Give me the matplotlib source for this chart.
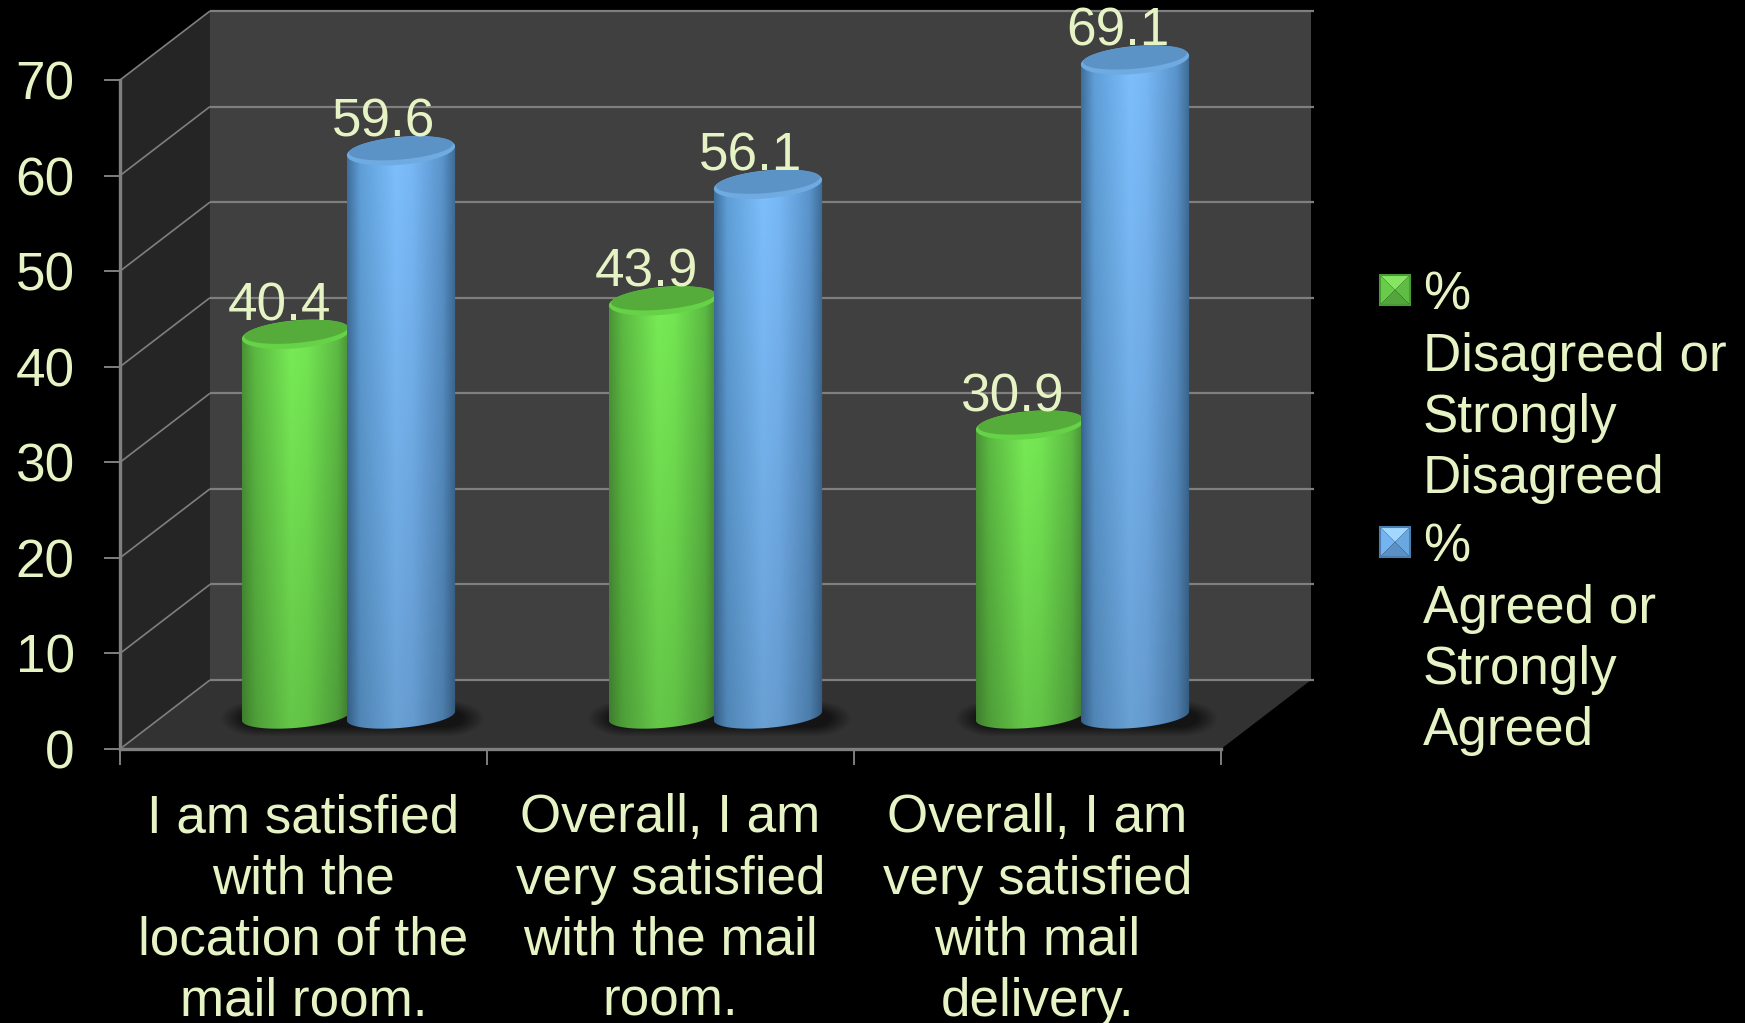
import numpy as np
import matplotlib
matplotlib.use("Agg")
import matplotlib.pyplot as plt
from matplotlib.patches import Polygon, Rectangle
from matplotlib.transforms import Affine2D

categories = ["I am satisfied\nwith the\nlocation of the\nmail room.",
              "Overall, I am\nvery satisfied\nwith the mail\nroom.",
              "Overall, I am\nvery satisfied\nwith mail\ndelivery."]
disagreed = [40.4, 43.9, 30.9]
agreed = [59.6, 56.1, 69.1]
y_ticks = [0, 10, 20, 30, 40, 50, 60, 70]
legend_labels = ["%\nDisagreed or\nStrongly\nDisagreed", "%\nAgreed or\nStrongly\nAgreed"]

W, H = 1745, 1023
TXT = "#e6f3c4"
GRID = "#7f7f7f"
FS = 38.2

# front plane of the fake 3d box, in pixels
LEFT, RIGHT, BOTTOM, TOP = 120, 1221, 749, 80
px_x = (RIGHT - LEFT) / 3
px_y = (BOTTOM - TOP) / 70
DX, DY = 90 / px_x, 69 / px_y   # wall depth in data units

plt.rcParams["font.family"] = ["Liberation Sans", "DejaVu Sans"]
fig = plt.figure(figsize=(W / 100, H / 100), dpi=100, facecolor="black")
ax = fig.add_axes([LEFT / W, 1 - BOTTOM / H, (RIGHT - LEFT) / W, (BOTTOM - TOP) / H])
ax.patch.set_alpha(0)


def wall(pts, color, z=1):
    ax.add_patch(Polygon(pts, closed=True, fc=color, ec="none", zorder=z, clip_on=False))


def line(xs, ys, z=2, lw=1.6):
    ax.plot(xs, ys, color=GRID, lw=lw, zorder=z, clip_on=False, solid_capstyle="butt")


# walls and floor
wall([(0, 0), (DX, DY), (DX, 70 + DY), (0, 70)], "#252525")
wall([(DX, DY), (3 + DX, DY), (3 + DX, 70 + DY), (DX, 70 + DY)], "#404040")
wall([(0, 0), (3, 0), (3 + DX, DY), (DX, DY)], "#323232")
for v in y_ticks:
    line([0, DX], [v, v + DY], lw=1.2)
    line([DX, 3 + DX + 3 / px_x], [v + DY, v + DY])

# cylinders sit at about half depth of the box
CX, CY = DX * 0.5, DY * 0.48
BAR_W = 0.295
OFFS = 0.143
BOT_B = 12 / px_y
TOP_B = 14 / px_y
TILT = 4.5 / px_y
TOP_DROP = 4.5 / px_y   # cylinder top sits a little under the label height


def ramp(stops):
    t = np.linspace(0, 1, 200)
    pos = [s[0] for s in stops]
    out = []
    for i in range(3):
        out.append(np.interp(t, pos, [int(s[1][1 + 2 * i:3 + 2 * i], 16) / 255 for s in stops]))
    return np.stack(out, axis=1)


green_side = ramp([(0, "#4b9437"), (0.12, "#5cba42"), (0.45, "#78ec56"), (0.6, "#74e653"), (0.88, "#5dbb44"), (1, "#478a35")])
blue_side = ramp([(0, "#3f6f9c"), (0.12, "#5f9fd8"), (0.45, "#7dbffd"), (0.6, "#78b8f6"), (0.88, "#5a94cb"), (1, "#3d6a94")])


def arc(xc, yc, b, t0, t1, a=BAR_W / 2, n=60):
    t = np.linspace(t0, t1, n)
    # y is up here, so sin<0 is the front edge
    return np.column_stack([xc + a * np.cos(t), yc + b * np.sin(t) + TILT * np.cos(t)])


def cylinder(x, value, side, rim, cap, z):
    xc = x + CX
    y0, y1 = CY, CY + value - TOP_DROP
    front = arc(xc, y0, BOT_B, np.pi, 2 * np.pi)
    outline = np.vstack([[[xc - BAR_W / 2, y1 - TILT]], front, [[xc + BAR_W / 2, y1 + TILT]]])
    clip = Polygon(outline, closed=True, transform=ax.transData, fc="none", ec="none")
    shade = np.linspace(1.0, 0.84, 120)[:, None, None]
    rgb = np.clip(side[None, :, :] * shade, 0, 1)
    im = ax.imshow(rgb, extent=[xc - BAR_W / 2, xc + BAR_W / 2, y0 - BOT_B - 1, y1 + 1],
                   aspect="auto", zorder=z, interpolation="bilinear", origin="upper")
    im.set_clip_box(fig.bbox)
    im.set_clip_path(clip)
    ax.add_patch(Polygon(arc(xc, y1, TOP_B, 0, 2 * np.pi), closed=True, fc=rim, ec="none", zorder=z + 0.1, clip_on=False))
    ax.add_patch(Polygon(arc(xc, y1 + 2.5 / px_y, TOP_B * 0.8, 0, 2 * np.pi, a=BAR_W / 2 * 0.96), closed=True,
                         fc=cap, ec="none", zorder=z + 0.2, clip_on=False))


def shadow(x):
    xs = np.linspace(-1, 1, 160)
    ys = np.linspace(-1, 1, 60)
    gx, gy = np.meshgrid(xs, ys)
    d = np.clip(1 - np.sqrt((np.maximum(np.abs(gx) - 0.7, 0) / 0.3) ** 2 + gy ** 2), 0, 1)
    img = np.zeros((60, 160, 4))
    img[..., 3] = np.clip(d * 1.1, 0, 0.6)
    im = ax.imshow(img, extent=[x + CX - 0.35, x + CX + 0.37, CY - 2.2, CY + 1.6], aspect="auto",
                   zorder=3, interpolation="bilinear")
    im.set_clip_box(fig.bbox)


for i, (d, a) in enumerate(zip(disagreed, agreed)):
    c = i + 0.5
    shadow(c)
    cylinder(c - OFFS, d, green_side, "#66d247", "#55ac3a", 4)
    cylinder(c + OFFS, a, blue_side, "#6faae0", "#5c93c6", 5)
    ax.text(c - OFFS + CX - 17 / px_x, d + CY + 1.0, f"{d}", color=TXT, fontsize=FS,
            ha="center", va="baseline", zorder=8, clip_on=False)
    ax.text(c + OFFS + CX - 17 / px_x, a + CY + 1.0, f"{a}", color=TXT, fontsize=FS,
            ha="center", va="baseline", zorder=8, clip_on=False)

ax.set_xlim(0, 3)
ax.set_ylim(0, 70)

# real axes for ticks and labels
for s in ["top", "right"]:
    ax.spines[s].set_visible(False)
for s in ["left", "bottom"]:
    ax.spines[s].set_color(GRID)
    ax.spines[s].set_linewidth(2.4)
    ax.spines[s].set_zorder(3)
ax.set_yticks(y_ticks)
ax.tick_params(axis="y", colors=TXT, labelsize=FS, length=11.5, width=1.4, color=GRID, pad=21)
ax.set_xticks([0, 1, 2, 3])
ax.set_xticklabels([])
ax.tick_params(axis="x", which="major", length=11.5, width=1.4, color=GRID)
ax.set_xticks([0.5, 1.5, 2.5], minor=True)
ax.set_xticklabels(categories, minor=True, fontsize=FS, color=TXT, linespacing=1.285)
ax.tick_params(axis="x", which="minor", length=0, pad=32)

# legend, placed in pixels from the top left
px = Affine2D().scale(1 / W, -1 / H).translate(0, 1) + fig.transFigure
keys = [(275, ("#86e664", "#68cc4a", "#5fbd44", "#53a63c", "#4a9a36")),
        (527, ("#a2d8ff", "#74b4f0", "#6aa8e2", "#5a90c6", "#4c7fb0"))]
for y, (top, lf, rt, bt, edge) in keys:
    x0, x1, y1 = 1380, 1410, y + 30
    xm, ym = (x0 + x1) / 2, y + 15
    for pts, col in [([(x0, y), (x1, y), (xm, ym)], top), ([(x0, y), (xm, ym), (x0, y1)], lf),
                     ([(x1, y), (xm, ym), (x1, y1)], rt), ([(x0, y1), (x1, y1), (xm, ym)], bt)]:
        fig.add_artist(Polygon(pts, closed=True, fc=col, ec="none", transform=px))
    fig.add_artist(Rectangle((x0, y), x1 - x0, 30, fc="none", ec=edge, lw=1.5, transform=px))
for y, lab in zip([271, 523], legend_labels):
    fig.text(1423, y, lab, transform=px, color=TXT, fontsize=FS, ha="left", va="top", linespacing=1.285)

fig.savefig("out.png", dpi=100, facecolor="black")
